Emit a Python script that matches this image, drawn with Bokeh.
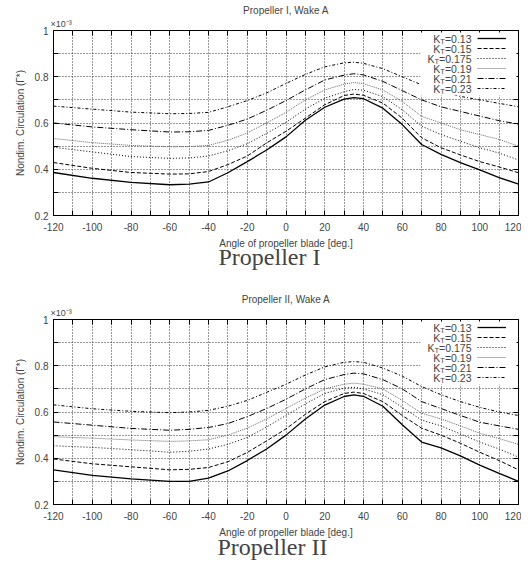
from bokeh.plotting import figure
from bokeh.models import (Range1d, FixedTicker, LinearAxis, Label, Legend, LegendItem,
                          BoxAnnotation, ColumnDataSource, Title)
from bokeh.core.properties import value
from bokeh.layouts import column
from bokeh.embed import file_html
from bokeh.resources import INLINE

# ---------------- data (values in units of 1e-3) ----------------
angles = [-120, -100, -80, -60, -50, -40, -30, -20, -10, 0, 10, 20, 30, 35, 40,
          50, 60, 70, 80, 90, 100, 110, 120]
kt_values = ["0.13", "0.15", "0.175", "0.19", "0.21", "0.23"]

p1_kt013 = [0.386, 0.361, 0.343, 0.333, 0.336, 0.345, 0.385, 0.433, 0.483, 0.540, 0.612, 0.668, 0.703, 0.710, 0.705, 0.664, 0.593, 0.507, 0.464, 0.429, 0.397, 0.364, 0.336]
p1_kt015 = [0.429, 0.404, 0.386, 0.379, 0.380, 0.390, 0.420, 0.457, 0.514, 0.564, 0.621, 0.679, 0.719, 0.725, 0.720, 0.686, 0.621, 0.536, 0.493, 0.462, 0.433, 0.410, 0.385]
p1_kt0175 = [0.495, 0.475, 0.455, 0.447, 0.449, 0.457, 0.480, 0.510, 0.555, 0.603, 0.660, 0.707, 0.735, 0.745, 0.742, 0.714, 0.657, 0.586, 0.550, 0.521, 0.493, 0.470, 0.440]
p1_kt019 = [0.533, 0.515, 0.503, 0.497, 0.498, 0.503, 0.525, 0.557, 0.600, 0.646, 0.700, 0.743, 0.768, 0.775, 0.770, 0.743, 0.693, 0.629, 0.600, 0.571, 0.550, 0.529, 0.500]
p1_kt021 = [0.600, 0.583, 0.571, 0.561, 0.562, 0.568, 0.590, 0.617, 0.655, 0.697, 0.743, 0.786, 0.807, 0.813, 0.808, 0.780, 0.740, 0.700, 0.670, 0.650, 0.630, 0.610, 0.595]
p1_kt023 = [0.673, 0.660, 0.647, 0.640, 0.641, 0.646, 0.670, 0.697, 0.730, 0.771, 0.810, 0.843, 0.860, 0.863, 0.858, 0.835, 0.800, 0.765, 0.735, 0.715, 0.700, 0.685, 0.670]

p2_kt013 = [0.350, 0.326, 0.311, 0.300, 0.300, 0.314, 0.345, 0.390, 0.440, 0.500, 0.570, 0.630, 0.667, 0.674, 0.668, 0.625, 0.545, 0.470, 0.445, 0.410, 0.370, 0.335, 0.300]
p2_kt015 = [0.397, 0.376, 0.363, 0.350, 0.352, 0.360, 0.385, 0.425, 0.475, 0.527, 0.590, 0.645, 0.680, 0.686, 0.680, 0.645, 0.585, 0.530, 0.500, 0.465, 0.426, 0.390, 0.350]
p2_kt0175 = [0.454, 0.447, 0.437, 0.426, 0.430, 0.440, 0.460, 0.490, 0.535, 0.585, 0.635, 0.680, 0.703, 0.707, 0.700, 0.675, 0.620, 0.565, 0.540, 0.505, 0.470, 0.440, 0.405]
p2_kt019 = [0.493, 0.487, 0.479, 0.473, 0.475, 0.480, 0.500, 0.530, 0.570, 0.615, 0.660, 0.700, 0.720, 0.725, 0.720, 0.700, 0.650, 0.595, 0.570, 0.540, 0.508, 0.485, 0.460]
p2_kt021 = [0.557, 0.543, 0.529, 0.521, 0.525, 0.533, 0.550, 0.580, 0.615, 0.655, 0.700, 0.740, 0.762, 0.768, 0.765, 0.740, 0.700, 0.645, 0.615, 0.585, 0.556, 0.540, 0.525]
p2_kt023 = [0.631, 0.614, 0.603, 0.597, 0.600, 0.607, 0.625, 0.650, 0.685, 0.720, 0.760, 0.795, 0.815, 0.818, 0.815, 0.790, 0.755, 0.710, 0.675, 0.645, 0.620, 0.600, 0.585]

x_major = [-120, -100, -80, -60, -40, -20, 0, 20, 40, 60, 80, 100, 120]
x_minor = [-110, -90, -70, -50, -30, -10, 10, 30, 50, 70, 90, 110]
y_major = [0.2, 0.4, 0.6, 0.8, 1.0]
y_minor = [0.3, 0.5, 0.7, 0.9]

# ---------------- styling ----------------
SANS = "Liberation Sans"
SERIF = "Liberation Serif"
styles = [
    dict(line_color="black", line_width=1.3, line_dash="solid"),
    dict(line_color="black", line_width=1.0, line_dash="4 2"),
    dict(line_color="black", line_width=1.0, line_dash="1 2"),
    dict(line_color="#666666", line_width=1.0, line_dash="1 1"),
    dict(line_color="black", line_width=1.0, line_dash="6 2 1 2"),
    dict(line_color="black", line_width=1.0, line_dash="3 2 1 2"),
]
# Arial-metric advance widths (em) for the legend text layout
CW = {"=": 0.584, ".": 0.278, "T": 0.611, "K": 0.667}
for d in "0123456789":
    CW[d] = 0.556


def twidth(s, size):
    return sum(CW[c] for c in s) * size


def make_plot(series, title, caption, top_border, bottom_border, cap_standoff, cap_offset):
    fw, fh = 465, 185
    p = figure(width=53 + fw + 3, height=top_border + fh + bottom_border,
               x_range=Range1d(-120, 120), y_range=Range1d(0.2, 1.0),
               output_backend="svg", toolbar_location=None,
               min_border_left=53, min_border_right=3, min_border_top=top_border,
               min_border_bottom=bottom_border, outline_line_color="black")

    xt = FixedTicker(ticks=x_major, minor_ticks=x_minor)
    yt = FixedTicker(ticks=y_major, minor_ticks=y_minor)
    for ax in p.xaxis:
        ax.ticker = xt
        ax.axis_label = "Angle of propeller blade [deg.]"
        ax.axis_label_standoff = 4
        ax.major_label_standoff = 7
        ax.major_label_overrides = {t: str(t) for t in x_major}
    for ax in p.yaxis:
        ax.ticker = yt
        ax.axis_label = "Nondim. Circulation (Γ*)"
        ax.axis_label_standoff = 6
        ax.major_label_standoff = 5
        ax.major_label_overrides = {1: "1"}
    for ax in list(p.xaxis) + list(p.yaxis):
        ax.major_tick_in = 5
        ax.major_tick_out = 0
        ax.minor_tick_in = 5
        ax.minor_tick_out = 0
        ax.major_label_text_font = SANS
        ax.major_label_text_font_size = "10px"
        ax.axis_label_text_font = SANS
        ax.axis_label_text_font_size = "10px"
        ax.axis_label_text_font_style = "normal"
        ax.axis_line_color = "black"
        ax.major_tick_line_color = "black"
        ax.minor_tick_line_color = "black"

    # mirrored tick marks on top/right
    for side, tk in (("above", x_major), ("right", y_major)):
        ax = LinearAxis(ticker=FixedTicker(ticks=tk, minor_ticks=(x_minor if side == "above" else y_minor)),
                        major_tick_in=5, major_tick_out=0, minor_tick_in=5, minor_tick_out=0,
                        major_label_standoff=0, major_label_text_font_size="1px",
                        major_label_overrides={t: "" for t in tk})
        p.add_layout(ax, side)

    # exponent marker and title
    p.add_layout(Title(text="×10⁻³", align="left", offset=-3, standoff=3,
                       text_font=SANS, text_font_size="9px", text_font_style="normal"), "above")
    p.add_layout(Title(text=title, align="center", standoff=0,
                       text_font=SANS, text_font_size="10px", text_font_style="normal"), "above")
    # caption below the x axis
    p.add_layout(Title(text=caption, align="left", offset=cap_offset, standoff=cap_standoff,
                       text_font=SERIF, text_font_size="24px", text_font_style="normal"), "below")

    for g in (p.xgrid, p.ygrid):
        g.grid_line_color = "#333333"
        g.grid_line_dash = "1 2"
        g.minor_grid_line_color = "#333333"
        g.minor_grid_line_dash = "1 2"
    p.xgrid.ticker = xt
    p.ygrid.ticker = yt

    renderers = []
    for vals, st in zip(series, styles):
        src = ColumnDataSource(dict(x=angles, y=vals))
        r = p.line("x", "y", source=src, **st)
        renderers.append(r)

    # legend background
    p.add_layout(BoxAnnotation(left=367, right=463, top=183, bottom=120,
                               left_units="screen", right_units="screen",
                               top_units="screen", bottom_units="screen",
                               fill_color="white", fill_alpha=1.0, line_color=None))
    # legend glyph samples
    leg = Legend(items=[LegendItem(label=value(""), renderers=[r]) for r in renderers],
                 location=(424, 122), padding=0, margin=0, spacing=0,
                 glyph_width=29, glyph_height=10, label_height=10, label_width=0,
                 label_standoff=0, label_text_font_size="1px",
                 border_line_color=None, background_fill_alpha=0.0)
    p.add_layout(leg, "center")
    # legend texts  K_T=value
    xr = 418
    for i, kt in enumerate(kt_values):
        yc = 177 - 10 * i
        eq = "=" + kt
        w1 = twidth(eq, 10.5)
        w2 = twidth("T", 7.5)
        p.add_layout(Label(x=xr, y=yc, x_units="screen", y_units="screen", text=eq,
                           text_align="right", text_baseline="middle",
                           text_font=SANS, text_font_size="10.5px"))
        p.add_layout(Label(x=xr - w1, y=yc - 3, x_units="screen", y_units="screen", text="T",
                           text_align="right", text_baseline="middle",
                           text_font=SANS, text_font_size="7.5px"))
        p.add_layout(Label(x=xr - w1 - w2, y=yc, x_units="screen", y_units="screen", text="K",
                           text_align="right", text_baseline="middle",
                           text_font=SANS, text_font_size="10.5px"))
    return p


p1 = make_plot([p1_kt013, p1_kt015, p1_kt0175, p1_kt019, p1_kt021, p1_kt023],
               "Propeller I, Wake A", "Propeller I", 30, 64, -20, 165)
p2 = make_plot([p2_kt013, p2_kt015, p2_kt0175, p2_kt019, p2_kt021, p2_kt023],
               "Propeller II, Wake A", "Propeller II", 40, 57, -17, 164)

layout = column(p1, p2, spacing=0)
open("out.html", "w").write(file_html(layout, INLINE))
